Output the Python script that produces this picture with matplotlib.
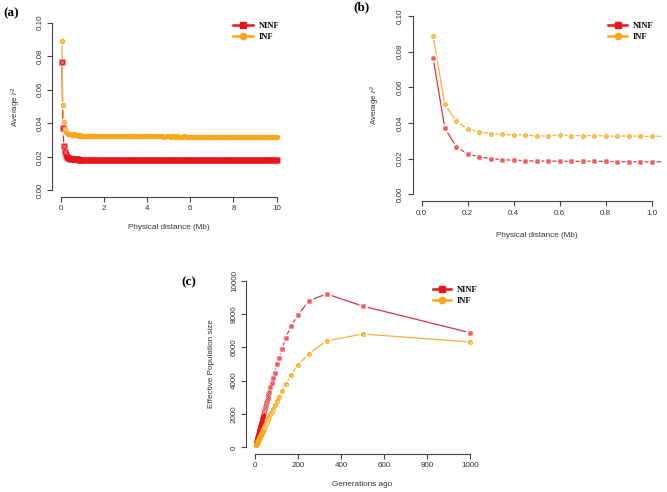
import matplotlib
matplotlib.use("Agg")
import matplotlib.pyplot as plt
from matplotlib.lines import Line2D
import numpy as np

plt.rcParams['font.family'] = ['Liberation Sans', 'DejaVu Sans']
plt.rcParams['mathtext.fontset'] = 'custom'
plt.rcParams['mathtext.rm'] = 'Liberation Sans'
plt.rcParams['mathtext.it'] = 'Liberation Sans:italic'

# ---- LD decay data (distance in Mb, average r^2) ----
distance = [0.05, 0.10, 0.15, 0.20, 0.25, 0.30, 0.35, 0.40, 0.45, 0.50,
            0.55, 0.60, 0.65, 0.70, 0.75, 0.80, 0.85, 0.90, 0.95, 1.00,
            1.1, 1.2, 1.3, 1.4, 1.5, 1.6, 1.7, 1.8, 1.9, 2.0,
            2.1, 2.2, 2.3, 2.4, 2.5, 2.6, 2.7, 2.8, 2.9, 3.0,
            3.1, 3.2, 3.3, 3.4, 3.5, 3.6, 3.7, 3.8, 3.9, 4.0,
            4.1, 4.2, 4.3, 4.4, 4.5, 4.6, 4.7, 4.8, 4.9, 5.0,
            5.1, 5.2, 5.3, 5.4, 5.5, 5.6, 5.7, 5.8, 5.9, 6.0,
            6.1, 6.2, 6.3, 6.4, 6.5, 6.6, 6.7, 6.8, 6.9, 7.0,
            7.1, 7.2, 7.3, 7.4, 7.5, 7.6, 7.7, 7.8, 7.9, 8.0,
            8.1, 8.2, 8.3, 8.4, 8.5, 8.6, 8.7, 8.8, 8.9, 9.0,
            9.1, 9.2, 9.3, 9.4, 9.5, 9.6, 9.7, 9.8, 9.9, 10.0]

r2_ninf = [0.0763, 0.0374, 0.0265, 0.0226, 0.0211, 0.0200, 0.0194, 0.0191, 0.0189, 0.0185,
           0.0187, 0.0185, 0.0185, 0.0185, 0.0186, 0.0184, 0.0183, 0.0183, 0.0182, 0.0182,
           0.0182, 0.0182, 0.0181, 0.0182, 0.0181, 0.0181, 0.0182, 0.0181, 0.0181, 0.0181,
           0.0181, 0.0181, 0.0180, 0.0181, 0.0181, 0.0180, 0.0181, 0.0180, 0.0180, 0.0181,
           0.0180, 0.0180, 0.0181, 0.0180, 0.0180, 0.0180, 0.0180, 0.0181, 0.0180, 0.0179,
           0.0180, 0.0180, 0.0180, 0.0179, 0.0180, 0.0180, 0.0179, 0.0180, 0.0180, 0.0179,
           0.0180, 0.0179, 0.0180, 0.0179, 0.0179, 0.0180, 0.0179, 0.0179, 0.0180, 0.0179,
           0.0179, 0.0179, 0.0180, 0.0179, 0.0179, 0.0179, 0.0179, 0.0178, 0.0179, 0.0179,
           0.0179, 0.0179, 0.0178, 0.0179, 0.0179, 0.0179, 0.0178, 0.0179, 0.0179, 0.0178,
           0.0179, 0.0178, 0.0179, 0.0178, 0.0179, 0.0178, 0.0178, 0.0179, 0.0178, 0.0178,
           0.0179, 0.0178, 0.0178, 0.0178, 0.0179, 0.0178, 0.0178, 0.0178, 0.0178, 0.0178]

r2_inf = [0.0888, 0.0507, 0.0409, 0.0368, 0.0350, 0.0340, 0.0336, 0.0333, 0.0333, 0.0327,
          0.0327, 0.0333, 0.0329, 0.0329, 0.0329, 0.0327, 0.0325, 0.0328, 0.0325, 0.0325,
          0.0326, 0.0325, 0.0324, 0.0325, 0.0324, 0.0325, 0.0324, 0.0323, 0.0324, 0.0324,
          0.0323, 0.0324, 0.0323, 0.0323, 0.0324, 0.0323, 0.0322, 0.0323, 0.0323, 0.0322,
          0.0323, 0.0322, 0.0322, 0.0323, 0.0322, 0.0322, 0.0321, 0.0322, 0.0322, 0.0321,
          0.0322, 0.0321, 0.0322, 0.0321, 0.0321, 0.0322, 0.0321, 0.0320, 0.0321, 0.0321,
          0.0320, 0.0321, 0.0320, 0.0321, 0.0320, 0.0320, 0.0321, 0.0320, 0.0320, 0.0319,
          0.0320, 0.0320, 0.0319, 0.0320, 0.0320, 0.0319, 0.0320, 0.0319, 0.0319, 0.0320,
          0.0319, 0.0319, 0.0320, 0.0319, 0.0319, 0.0318, 0.0319, 0.0319, 0.0318, 0.0319,
          0.0319, 0.0318, 0.0319, 0.0318, 0.0318, 0.0319, 0.0318, 0.0318, 0.0318, 0.0319,
          0.0318, 0.0318, 0.0318, 0.0317, 0.0318, 0.0318, 0.0317, 0.0318, 0.0318, 0.0318]

# ---- effective population size history ----
generations = [1000, 500, 333.3, 250, 200, 166.7, 142.9, 125, 111.1, 100,
               90.9, 83.3, 76.9, 71.4, 66.7, 62.5, 58.8, 55.6, 52.6, 50,
               47.6, 45.5, 43.5, 41.7, 40, 38.5, 37, 35.7, 34.5, 33.3,
               32.3, 31.3, 30.3, 29.4, 28.6, 27.8, 27, 26.3, 25.6, 25,
               24.4, 23.8, 23.3, 22.7, 22.2, 21.7, 21.3, 20.8, 20.4, 20,
               19.6, 18.5, 17.5, 16.7, 15.9, 15.2, 14.5, 13.9, 13.3, 12.8,
               12.3, 11.9, 11.5, 11.1, 10.5, 10, 9.5, 9, 8.5, 8,
               7.5, 7, 6.5, 6, 5.5, 5]

ne_ninf = [6880, 8480, 9200, 8800, 7920, 7280, 6560, 5880, 5380, 4980,
           4440, 4140, 3880, 3600, 3340, 3140, 2960, 2800, 2650, 2520,
           2400, 2290, 2190, 2100, 2015, 1940, 1865, 1800, 1740, 1680,
           1625, 1575, 1525, 1480, 1440, 1400, 1360, 1325, 1290, 1260,
           1230, 1200, 1170, 1145, 1120, 1095, 1070, 1050, 1030, 1010,
           990, 935, 885, 845, 805, 770, 735, 705, 675, 650,
           625, 605, 585, 565, 535, 510, 485, 460, 435, 410,
           385, 360, 335, 310, 285, 260]

ne_inf = [6320, 6800, 6380, 5620, 4920, 4340, 3780, 3380, 3040, 2800,
          2540, 2280, 2120, 1980, 1850, 1740, 1640, 1550, 1470, 1400,
          1330, 1270, 1215, 1165, 1120, 1075, 1035, 1000, 965, 930,
          900, 870, 845, 820, 795, 775, 755, 735, 715, 700,
          680, 665, 650, 635, 620, 605, 595, 580, 570, 560,
          550, 520, 490, 465, 445, 425, 405, 390, 375, 360,
          345, 335, 320, 310, 295, 280, 265, 250, 240, 225,
          210, 200, 185, 170, 160, 145]

# colours
RED = '#E8161C'
RED_LINE = '#D23A42'
RED_X = '#F59A9A'
ORA = '#F7A81A'
ORA_LINE = '#F2B23E'
ORA_X = '#FCD58A'
AX_COL = '#444444'

W, H = 667, 492
fig = plt.figure(figsize=(W / 100, H / 100), dpi=100)


def px_axes(left, top, right, bottom):
    return fig.add_axes([left / W, 1 - bottom / H, (right - left) / W, (bottom - top) / H])


def style_axes(ax, xticks, xlabels, yticks, ylabels, xlab, ylab, xoff, yoff):
    for s in ['top', 'right']:
        ax.spines[s].set_visible(False)
    for s in ['left', 'bottom']:
        ax.spines[s].set_color(AX_COL)
        ax.spines[s].set_linewidth(0.8)
    ax.spines['bottom'].set_bounds(xticks[0], xticks[-1])
    ax.spines['left'].set_bounds(yticks[0], yticks[-1])
    ax.set_xticks(xticks)
    ax.set_xticklabels(xlabels)
    ax.set_yticks(yticks)
    ax.set_yticklabels(ylabels, rotation=90, va='center')
    ax.tick_params(length=3.6, width=0.8, color=AX_COL, labelsize=5.8,
                   labelcolor='#333333', pad=2.5)
    ax.set_xlabel(xlab, fontsize=5.9, color='#333333', va='center')
    ax.set_ylabel(ylab, fontsize=5.9, color='#333333', va='center')
    ax.xaxis.set_label_coords(0.5, xoff)
    ax.yaxis.set_label_coords(yoff, 0.5)


def draw_pair(ax, x, y1, y2, ms_sq, ms_ci, ncross):
    ax.plot(x, y1, '-', color=RED_LINE, lw=0.9, zorder=2)
    ax.plot(x, y2, '-', color=ORA_LINE, lw=0.9, zorder=2)
    # white halo gives the R type="b" gaps around points
    ax.plot(x, y1, 's', ms=ms_sq + 2.2, mfc='white', mec='none', zorder=3)
    ax.plot(x, y2, 'o', ms=ms_ci + 2.2, mfc='white', mec='none', zorder=3)
    ax.plot(x, y1, 's', ms=ms_sq, mfc=RED, mec='none', zorder=4)
    ax.plot(x, y2, 'o', ms=ms_ci, mfc=ORA, mec='none', zorder=4)
    # the cross pattern is only visible where points do not pile up
    ax.plot(x[:ncross], y1[:ncross], 'x', ms=ms_sq * 0.7, mec=RED_X, mew=0.5, zorder=5)
    ax.plot(x[:ncross], y2[:ncross], 'x', ms=ms_ci * 0.6, mec=ORA_X, mew=0.5, zorder=5)


def add_legend(ax, x_px, top_px, hlen):
    handles = [Line2D([], [], color=RED, lw=1.8, marker='s', ms=4.2),
               Line2D([], [], color=ORA, lw=1.8, marker='o', ms=4.6)]
    ax.legend(handles, ['NINF', 'INF'], loc='upper left',
              bbox_to_anchor=(x_px / W, 1 - top_px / H), bbox_transform=fig.transFigure,
              frameon=False, borderpad=0, borderaxespad=0, handlelength=hlen,
              handletextpad=0.7, labelspacing=0.45, numpoints=1,
              prop={'family': 'Liberation Serif', 'weight': 'bold', 'size': 6})


yt = [0.00, 0.02, 0.04, 0.06, 0.08, 0.10]
ytl = ['0.00', '0.02', '0.04', '0.06', '0.08', '0.10']
ylab_r2 = 'Average $r^2$'

# (a) full range
ax1 = px_axes(52.1, 16.0, 285.3, 197.0)
draw_pair(ax1, distance, r2_ninf, r2_inf, 3.7, 3.9, 4)
ax1.set_xlim(-0.4, 10.4)
ax1.set_ylim(-0.004, 0.104)
style_axes(ax1, [0, 2, 4, 6, 8, 10], ['0', '2', '4', '6', '8', '10'], yt, ytl,
           'Physical distance (Mb)', ylab_r2, -0.171, -0.152)
add_legend(ax1, 233, 21.5, 2.4)
fig.text(3 / W, 1 - 13 / H, '(a)', family='Liberation Serif', weight='bold',
         fontsize=9.5, va='center', ha='left')

# (b) first Mb
ax2 = px_axes(412.5, 8.9, 660.9, 201.4)
draw_pair(ax2, distance, r2_ninf, r2_inf, 3.0, 3.5, 21)
ax2.set_xlim(-0.04, 1.04)
ax2.set_ylim(-0.004, 0.104)
style_axes(ax2, [0.0, 0.2, 0.4, 0.6, 0.8, 1.0], ['0.0', '0.2', '0.4', '0.6', '0.8', '1.0'],
           yt, ytl, 'Physical distance (Mb)', ylab_r2, -0.175, -0.151)
add_legend(ax2, 608, 21.5, 2.3)
fig.text(353 / W, 1 - 7 / H, '(b)', family='Liberation Serif', weight='bold',
         fontsize=9.5, va='center', ha='left')

# (c) Ne over time
ax3 = px_axes(246.4, 274.0, 478.6, 454.0)
draw_pair(ax3, generations, ne_ninf, ne_inf, 3.4, 3.6, 24)
ax3.set_xlim(-40, 1040)
ax3.set_ylim(-400, 10400)
style_axes(ax3, [0, 200, 400, 600, 800, 1000], ['0', '200', '400', '600', '800', '1000'],
           [0, 2000, 4000, 6000, 8000, 10000], ['0', '2000', '4000', '6000', '8000', '10000'],
           'Generations ago', 'Effective Population size', -0.172, -0.149)
add_legend(ax3, 433, 285.5, 2.1)
fig.text(181.5 / W, 1 - 282.5 / H, '(c)', family='Liberation Serif', weight='bold',
         fontsize=9.5, va='center', ha='left')

fig.savefig('out.png', dpi=100)
